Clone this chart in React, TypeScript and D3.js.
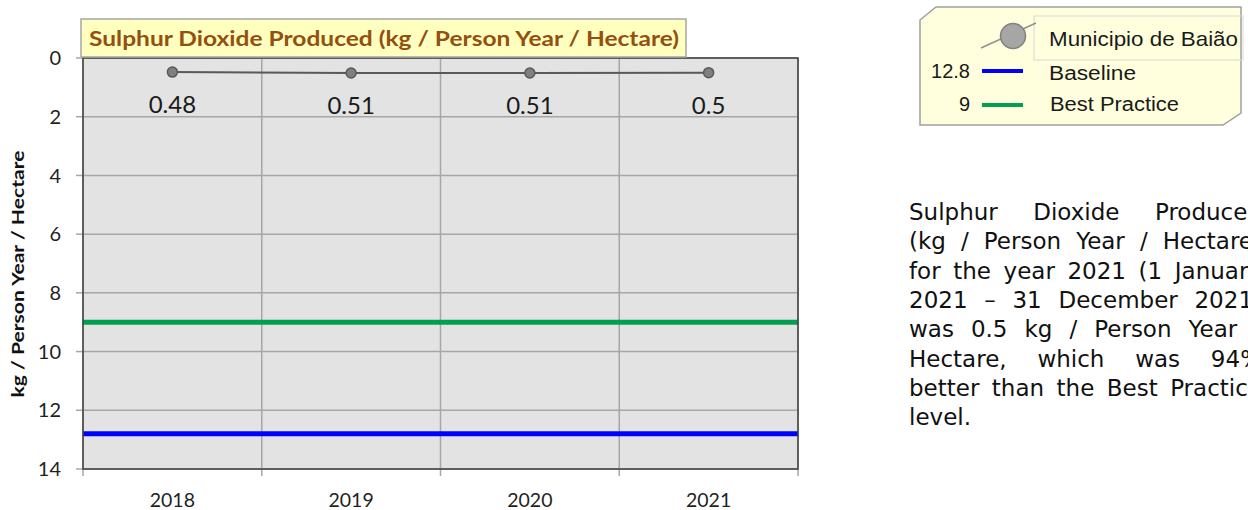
import React, { useLayoutEffect, useRef } from "react";
import * as d3 from "d3";

const years = ["2018", "2019", "2020", "2021"];
const values = [0.48, 0.51, 0.51, 0.5];
const valueLabels = ["0.48", "0.51", "0.51", "0.5"];
const baselineValue = 12.8;
const bestPracticeValue = 9;
const yTicks = [0, 2, 4, 6, 8, 10, 12, 14];
const chartTitle = "Sulphur Dioxide Produced (kg / Person Year / Hectare)";
const yAxisTitle = "kg / Person Year / Hectare";
const seriesName = "Municipio de Baião";
const baselineName = "Baseline";
const bestPracticeName = "Best Practice";
const paragraphLines = [
  "Sulphur Dioxide Produced",
  "(kg / Person Year / Hectare)",
  "for the year 2021 (1 January",
  "2021 – 31 December 2021)",
  "was 0.5 kg / Person Year /",
  "Hectare, which was 94%",
  "better than the Best Practice",
  "level.",
];

const W = 1248;
const H = 510;
const plot = { left: 83, right: 798, top: 58, bottom: 469 };
const para = { left: 909, right: 1262, top: 220, lineH: 29.3 };

export default function App() {
  const paraRef = useRef<SVGGElement>(null);

  const x = d3.scaleBand<string>().domain(years).range([plot.left, plot.right]).padding(0);
  const y = d3.scaleLinear().domain([0, 14]).range([plot.top, plot.bottom]);
  const line = d3
    .line<number>()
    .x((_, i) => (x(years[i]) as number) + x.bandwidth() / 2)
    .y((d) => y(d));

  useLayoutEffect(() => {
    const g = paraRef.current;
    if (!g) return;
    const texts = Array.from(g.querySelectorAll("text")) as SVGTextElement[];
    texts.forEach((t, i) => {
      if (i === texts.length - 1) return;
      const content = paragraphLines[i];
      const nSpaces = (content.match(/ /g) || []).length;
      t.setAttribute("word-spacing", "0");
      const w = t.getComputedTextLength();
      const extra = (para.right - para.left - w) / Math.max(1, nSpaces);
      t.setAttribute("word-spacing", String(extra));
    });
  }, []);

  const edges = [...years.map((yr) => x(yr) as number), plot.right];
  const legendPoly = [
    [920, 20],
    [936, 7],
    [1241, 7],
    [1241, 113],
    [1223, 125],
    [920, 125],
  ];

  return (
    <svg
      width={W}
      height={H}
      style={{ position: "absolute", left: 0, top: 0, background: "#fff" }}
    >
      {/* plot background */}
      <rect
        x={plot.left}
        y={plot.top}
        width={plot.right - plot.left}
        height={plot.bottom - plot.top}
        fill="#E3E3E3"
      />
      {/* horizontal gridlines */}
      {yTicks.map((t) => (
        <line
          key={"hg" + t}
          x1={plot.left}
          x2={plot.right}
          y1={y(t)}
          y2={y(t)}
          stroke="#A6A6A6"
          strokeWidth={1.5}
        />
      ))}
      {/* vertical gridlines */}
      {edges.map((e, i) => (
        <line
          key={"vg" + i}
          x1={e}
          x2={e}
          y1={plot.top}
          y2={plot.bottom}
          stroke="#A6A6A6"
          strokeWidth={1.5}
        />
      ))}
      {/* y tick marks & labels */}
      {yTicks.map((t) => (
        <g key={"yt" + t}>
          <line x1={plot.left - 7} x2={plot.left} y1={y(t)} y2={y(t)} stroke="#A6A6A6" strokeWidth={1.5} />
          <text
            x={61}
            y={y(t)}
            dy="0.36em"
            textAnchor="end"
            fontFamily="Lato, sans-serif"
            fontSize={20}
            fill="#1f1f1f"
          >
            {t}
          </text>
        </g>
      ))}
      {/* x tick marks */}
      {edges.map((e, i) => (
        <line key={"xt" + i} x1={e} x2={e} y1={plot.bottom} y2={plot.bottom + 7} stroke="#A6A6A6" strokeWidth={1.5} />
      ))}
      {/* x labels */}
      {years.map((yr) => (
        <text
          key={"xl" + yr}
          x={(x(yr) as number) + x.bandwidth() / 2}
          y={507}
          textAnchor="middle"
          fontFamily="Lato, sans-serif"
          fontSize={19.5}
          fill="#1f1f1f"
        >
          {yr}
        </text>
      ))}
      {/* reference lines */}
      <line
        x1={plot.left}
        x2={plot.right}
        y1={y(bestPracticeValue)}
        y2={y(bestPracticeValue)}
        stroke="#00A050"
        strokeWidth={5}
      />
      <line
        x1={plot.left}
        x2={plot.right}
        y1={y(baselineValue)}
        y2={y(baselineValue)}
        stroke="#0000FF"
        strokeWidth={5}
      />
      {/* plot border */}
      <rect
        x={plot.left}
        y={plot.top}
        width={plot.right - plot.left}
        height={plot.bottom - plot.top}
        fill="none"
        stroke="#404040"
        strokeWidth={1.5}
      />
      {/* series */}
      <path d={line(values) || ""} fill="none" stroke="#595959" strokeWidth={2} />
      {values.map((v, i) => (
        <circle
          key={"pt" + i}
          cx={(x(years[i]) as number) + x.bandwidth() / 2}
          cy={y(v)}
          r={5}
          fill="#7F7F7F"
          stroke="#595959"
          strokeWidth={1.5}
        />
      ))}
      {values.map((v, i) => (
        <text
          key={"dl" + i}
          x={(x(years[i]) as number) + x.bandwidth() / 2}
          y={y(v) + 41}
          textAnchor="middle"
          fontFamily="Lato, sans-serif"
          fontSize={24}
          fill="#1a1a1a"
        >
          {valueLabels[i]}
        </text>
      ))}
      {/* title box */}
      <rect x={81} y={19} width={605} height={38} fill="#FFFFC0" stroke="#A6A6A6" strokeWidth={1.5} />
      <text
        x={89}
        y={45.5}
        fontFamily="Lato, sans-serif"
        fontWeight="bold"
        fontSize={20.5}
        fill="#94500F"
        textLength={590}
        lengthAdjust="spacingAndGlyphs"
      >
        {chartTitle}
      </text>
      {/* y axis title */}
      <text
        transform={`translate(24, ${274}) rotate(-90)`}
        textAnchor="middle"
        fontFamily="Lato, sans-serif"
        fontWeight="bold"
        fontSize={17}
        fill="#111"
        textLength={247}
        lengthAdjust="spacingAndGlyphs"
      >
        {yAxisTitle}
      </text>

      {/* legend */}
      <polygon
        points={legendPoly.map((p) => p.join(",")).join(" ")}
        fill="#FFFFDD"
        stroke="#A0A0A0"
        strokeWidth={1.5}
      />
      <rect x={1034} y={16} width={209} height={44} fill="none" stroke="#D8D8D8" strokeWidth={1} />
      <line x1={981} y1={48} x2={1036} y2={23} stroke="#909090" strokeWidth={1.5} />
      <circle cx={1013} cy={36} r={12.5} fill="#A6A6A6" stroke="#808080" strokeWidth={1.5} />
      <text x={1049} y={46} fontFamily="'Liberation Sans', Arial, sans-serif" fontSize={21} fill="#1a1a1a" textLength={189} lengthAdjust="spacingAndGlyphs">
        {seriesName}
      </text>
      <text x={970} y={78} textAnchor="end" fontFamily="'Liberation Sans', Arial, sans-serif" fontSize={20} fill="#1a1a1a">
        {String(baselineValue)}
      </text>
      <line x1={982} x2={1023} y1={71} y2={71} stroke="#0000FF" strokeWidth={4} />
      <text x={1049} y={80} fontFamily="'Liberation Sans', Arial, sans-serif" fontSize={20} fill="#1a1a1a" textLength={87} lengthAdjust="spacingAndGlyphs">
        {baselineName}
      </text>
      <text x={970} y={111} textAnchor="end" fontFamily="'Liberation Sans', Arial, sans-serif" fontSize={20} fill="#1a1a1a">
        {String(bestPracticeValue)}
      </text>
      <line x1={982} x2={1023} y1={105} y2={105} stroke="#00A050" strokeWidth={4} />
      <text x={1050} y={111} fontFamily="'Liberation Sans', Arial, sans-serif" fontSize={20} fill="#1a1a1a" textLength={129} lengthAdjust="spacingAndGlyphs">
        {bestPracticeName}
      </text>

      {/* paragraph */}
      <g ref={paraRef}>
        {paragraphLines.map((l, i) => (
          <text
            key={"p" + i}
            x={para.left}
            y={para.top + i * para.lineH}
            fontFamily="'DejaVu Sans', Verdana, sans-serif"
            fontSize={23}
            fill="#111"
            style={{ whiteSpace: "pre" }}
          >
            {l}
          </text>
        ))}
      </g>
    </svg>
  );
}
